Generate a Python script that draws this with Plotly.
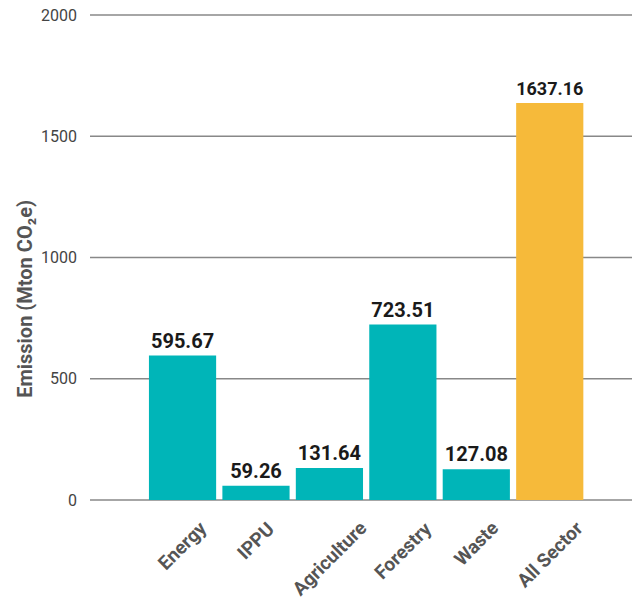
import plotly.graph_objects as go

sectors = ["Energy", "IPPU", "Agriculture", "Forestry", "Waste", "All Sector"]
emissions = [595.67, 59.26, 131.64, 723.51, 127.08, 1637.16]
bar_colors = ["#00B5B8", "#00B5B8", "#00B5B8", "#00B5B8", "#00B5B8", "#F6BA3A"]
y_ticks = [0, 500, 1000, 1500, 2000]

fig = go.Figure(
    go.Bar(
        x=sectors,
        y=emissions,
        marker=dict(color=bar_colors, line=dict(width=0)),
        text=[f"<b>{v:.2f}</b>" for v in emissions],
        textposition="outside",
        textfont=dict(family="Roboto", size=20, color="#1a1a1a"),
        cliponaxis=False,
    )
)

fig.update_layout(
    width=632,
    height=600,
    margin=dict(l=90, r=0, t=14, b=99),
    plot_bgcolor="white",
    paper_bgcolor="white",
    bargap=0.085,
    showlegend=False,
    font=dict(family="Roboto", color="#555555"),
)

fig.update_xaxes(
    range=[-1.26, 6.12],
    showticklabels=False,
    showgrid=False,
    showline=False,
    ticks="",
)

fig.update_yaxes(
    range=[-4, 2004],
    tickvals=y_ticks,
    ticktext=[str(t) for t in y_ticks],
    tickfont=dict(family="Roboto", size=16, color="#444444"),
    showgrid=False,
    zeroline=False,
    showline=False,
    ticks="",
    ticklabelstandoff=12,
)

# horizontal grid lines, drawn beneath the bars
for t in y_ticks:
    fig.add_shape(
        type="line",
        xref="paper",
        yref="y",
        x0=0,
        x1=1,
        y0=t,
        y1=t,
        line=dict(color="#888888", width=1.5),
        layer="below",
    )

# rotated sector names centred under each bar
for s in sectors:
    fig.add_annotation(
        text=f"<b>{s}</b>",
        x=s,
        xref="x",
        y=0,
        yref="y",
        xanchor="center",
        yanchor="top",
        yshift=-14,
        textangle=-45,
        showarrow=False,
        font=dict(family="Roboto", size=19, color="#555555"),
    )

fig.add_annotation(
    text="<b>Emission (Mton CO₂e)</b>",
    xref="paper",
    yref="paper",
    x=-0.12,
    y=0.415,
    xanchor="center",
    yanchor="middle",
    textangle=-90,
    showarrow=False,
    font=dict(family="Roboto", size=20, color="#555555"),
)

fig.write_html("out.html")
